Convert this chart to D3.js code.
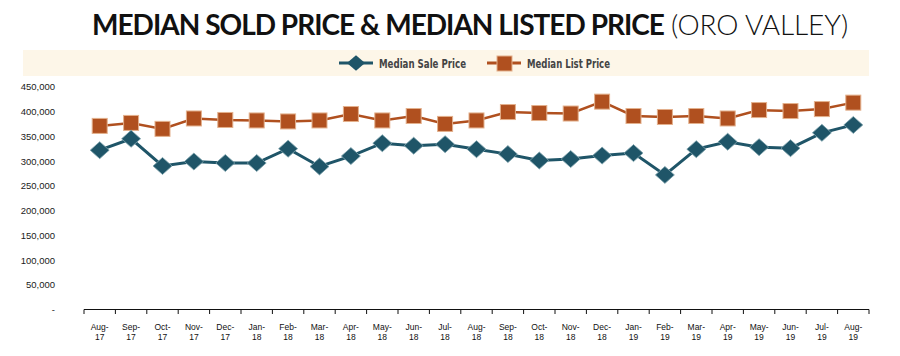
<!DOCTYPE html>
<html><head><meta charset="utf-8">
<script src="https://cdn.jsdelivr.net/npm/d3@7"></script>
<style>html,body{margin:0;padding:0;background:#fff;}svg{display:block;}</style>
</head><body>
<svg id="c" width="900" height="356"></svg>
<script>
const categories = ["Aug-17","Sep-17","Oct-17","Nov-17","Dec-17","Jan-18","Feb-18","Mar-18","Apr-18","May-18","Jun-18","Jul-18","Aug-18","Sep-18","Oct-18","Nov-18","Dec-18","Jan-19","Feb-19","Mar-19","Apr-19","May-19","Jun-19","Jul-19","Aug-19"];
const salePrice = [322000,345000,290000,299000,296000,296000,325000,289000,310000,336000,331000,334000,324000,314000,301000,304000,311000,316000,272000,324000,339000,328000,326000,357000,373000];
const listPrice = [371000,377000,365000,386000,383000,382000,380000,382000,395000,382000,391000,375000,382000,399000,397000,396000,420000,391000,389000,391000,386000,403000,401000,405000,418000];
const yTicks = [0,50000,100000,150000,200000,250000,300000,350000,400000,450000];
const titleBold = "MEDIAN SOLD PRICE & MEDIAN LISTED PRICE";
const titleLight = "(ORO VALLEY)";
const seriesNames = ["Median Sale Price","Median List Price"];

const svg = d3.select("#c");
const saleColor = "#1f5568", listColor = "#b0501f";

function fitText(sel, target){
  const n = sel.text().length;
  const w = sel.node().getComputedTextLength();
  sel.attr("letter-spacing", ((target - w)/(n)).toFixed(3));
}

// title
const tb = svg.append("text").attr("x",92).attr("y",35).attr("font-family","Lato").attr("font-size",28)
  .attr("font-weight",700).attr("fill","#111").text(titleBold);
fitText(tb, 572);
const tl = svg.append("text").attr("x",671).attr("y",35).attr("font-family","Lato").attr("font-size",28)
  .attr("font-weight",300).attr("fill","#111").text(titleLight);
fitText(tl, 177);

// legend band
svg.append("rect").attr("x",23).attr("y",50).attr("width",846).attr("height",26).attr("fill","#fdf6e8");

const x = d3.scaleBand().domain(categories).range([84,869]).padding(0);
const y = d3.scaleLinear().domain([0,450000]).range([309.5,86.8]);
const diamond = "M0,-8.5L9.5,0L0,8.5L-9.5,0Z";

// legend
const lg = svg.append("g");
lg.append("line").attr("x1",339).attr("x2",373).attr("y1",63).attr("y2",63).attr("stroke",saleColor).attr("stroke-width",3);
lg.append("path").attr("d",diamond).attr("transform","translate(356,63) scale(0.95,0.9)").attr("fill",saleColor);
lg.append("text").attr("x",379).attr("y",67.5).attr("font-family","DejaVu Sans Condensed").attr("font-weight",700)
  .attr("font-size",12).attr("fill","#444").attr("textLength",87).attr("lengthAdjust","spacingAndGlyphs").text(seriesNames[0]);
lg.append("line").attr("x1",487).attr("x2",521).attr("y1",63).attr("y2",63).attr("stroke",listColor).attr("stroke-width",3);
lg.append("rect").attr("x",497).attr("y",56).attr("width",15).attr("height",15).attr("fill",listColor).attr("stroke","#e3b08c").attr("stroke-width",1);
lg.append("text").attr("x",527).attr("y",67.5).attr("font-family","DejaVu Sans Condensed").attr("font-weight",700)
  .attr("font-size",12).attr("fill","#444").attr("textLength",83).attr("lengthAdjust","spacingAndGlyphs").text(seriesNames[1]);

// y axis labels
svg.append("g").selectAll("text").data(yTicks).join("text")
  .attr("x",55).attr("y",d=>y(d)+3.5).attr("text-anchor","end")
  .attr("font-family","Liberation Sans").attr("font-size",9.5).attr("fill","#1a1a1a")
  .text(d=> d===0 ? "-" : d3.format(",")(d));

// x axis
const xa = svg.append("g");
xa.append("line").attr("x1",84).attr("x2",869).attr("y1",309.5).attr("y2",309.5).attr("stroke","#111").attr("stroke-width",1);
const bounds = categories.map(c=>x(c)).concat([x(categories[categories.length-1])+x.bandwidth()]);
xa.selectAll("line.t").data(bounds).join("line").attr("class","t")
  .attr("x1",d=>d).attr("x2",d=>d).attr("y1",309.5).attr("y2",314).attr("stroke","#111").attr("stroke-width",1);
const lab = xa.selectAll("text").data(categories).join("text")
  .attr("text-anchor","middle").attr("font-family","Liberation Sans").attr("font-size",8.5).attr("fill","#111");
lab.append("tspan").attr("x",d=>x(d)+x.bandwidth()/2).attr("y",330).text(d=>d.split("-")[0]+"-");
lab.append("tspan").attr("x",d=>x(d)+x.bandwidth()/2).attr("y",340).text(d=>d.split("-")[1]);

const cx = d=>x(d)+x.bandwidth()/2;
svg.append("path").datum(listPrice).attr("fill","none").attr("stroke",listColor).attr("stroke-width",2.5)
  .attr("d",d3.line().x((d,i)=>cx(categories[i])).y(d=>y(d)));
svg.append("path").datum(salePrice).attr("fill","none").attr("stroke",saleColor).attr("stroke-width",3)
  .attr("d",d3.line().x((d,i)=>cx(categories[i])).y(d=>y(d)));

svg.append("g").selectAll("rect").data(listPrice).join("rect")
  .attr("x",(d,i)=>cx(categories[i])-7.5).attr("y",d=>y(d)-7.5).attr("width",15).attr("height",15)
  .attr("fill",listColor).attr("stroke","#e3b08c").attr("stroke-width",1);
svg.append("g").selectAll("path").data(salePrice).join("path")
  .attr("d",diamond)
  .attr("transform",(d,i)=>`translate(${cx(categories[i])},${y(d)})`)
  .attr("fill",saleColor).attr("stroke","#7fa3ad").attr("stroke-width",0.8);
</script>
</body></html>
